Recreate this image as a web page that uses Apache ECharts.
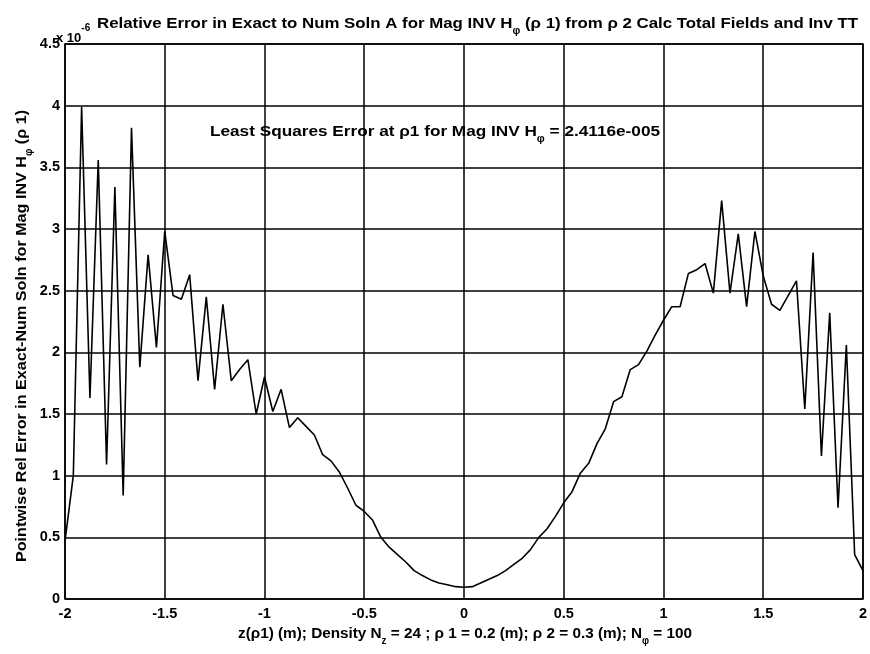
<!DOCTYPE html>
<html>
<head>
<meta charset="utf-8">
<script src="https://cdn.jsdelivr.net/npm/echarts@6/dist/echarts.min.js"></script>
<style>
  html, body { margin: 0; padding: 0; background: #fff; }
  #chart { width: 870px; height: 654px; }
</style>
</head>
<body>
<div id="chart"></div>
<script>
// Sampling along z(rho1): N_z = 24 points per metre from -2 to 2
const zStart = -2;
const zDensity = 24;

// Pointwise relative error (units of 1e-6), one value per z sample
const relError = [
  0.47, 1.00, 3.99, 1.63, 3.56, 1.09, 3.34, 0.84, 3.82, 1.88,
  2.79, 2.04, 2.98, 2.46, 2.43, 2.63, 1.77, 2.45, 1.70, 2.39,
  1.77, 1.86, 1.94, 1.50, 1.80, 1.52, 1.70, 1.39, 1.47, 1.40,
  1.33, 1.17, 1.12, 1.03, 0.90, 0.76, 0.71, 0.64, 0.50, 0.42,
  0.36, 0.30, 0.23, 0.19, 0.155, 0.13, 0.115, 0.10, 0.095, 0.10,
  0.13, 0.16, 0.19, 0.23, 0.28, 0.33, 0.40, 0.50, 0.57, 0.67,
  0.78, 0.87, 1.02, 1.10, 1.26, 1.38, 1.60, 1.64, 1.86, 1.90,
  2.01, 2.14, 2.26, 2.37, 2.37, 2.64, 2.67, 2.72, 2.48, 3.23,
  2.48, 2.96, 2.37, 2.98, 2.62, 2.39, 2.34, 2.46, 2.58, 1.54,
  2.81, 1.16, 2.32, 0.74, 2.06, 0.36, 0.23
];

const xTicks = [-2, -1.5, -1, -0.5, 0, 0.5, 1, 1.5, 2];
const yTicks = [0, 0.5, 1, 1.5, 2, 2.5, 3, 3.5, 4, 4.5];

// Text pieces: [string, isSubscript]
const titleParts = [['Relative Error in Exact to Num Soln A for Mag INV H', 0], ['φ', 1], [' (ρ 1) from ρ 2 Calc Total Fields and Inv TT', 0]];
const noteParts = [['Least Squares Error at ρ1 for Mag INV H', 0], ['φ', 1], [' = 2.4116e-005', 0]];
const xNameParts = [['z(ρ1) (m); Density N', 0], ['z', 1], [' = 24 ; ρ 1 = 0.2 (m); ρ 2 = 0.3 (m); N', 0], ['φ', 1], [' = 100', 0]];
const yNameParts = [['Pointwise Rel Error in Exact-Num Soln for Mag INV H', 0], ['φ', 1], [' (ρ 1)', 0]];

const seriesData = relError.map((v, k) => [zStart + k / zDensity, v]);

const FONT = '"Liberation Sans", Arial, sans-serif';
const MAIN = 15.5, SUB = 10;
const base = { fontFamily: FONT, fontWeight: 'bold', color: '#000' };

// width of a rich label, used to stretch it to its span
const ctx = document.createElement('canvas').getContext('2d');
function partsWidth(parts) {
  let w = 0;
  for (const [t, sub] of parts) {
    ctx.font = 'bold ' + (sub ? SUB : MAIN) + 'px ' + FONT;
    w += ctx.measureText(t).width;
  }
  return w;
}
function richText(parts) {
  return parts.map(([t, sub]) => '{' + (sub ? 's' : 'm') + '|' + t + '}').join('');
}
const rich = {
  m: { ...base, fontSize: MAIN, verticalAlign: 'middle', lineHeight: 24 },
  s: { ...base, fontSize: SUB, verticalAlign: 'bottom', lineHeight: 24 }
};
function label(parts, x, y, span, extra) {
  const sx = span / partsWidth(parts);
  return Object.assign({
    type: 'text', x: x, y: y, scaleX: sx, z: 10,
    style: { text: richText(parts), rich: rich, align: 'center', verticalAlign: 'middle' }
  }, extra || {});
}

const chart = echarts.init(document.getElementById('chart'), null, { renderer: 'canvas' });

chart.setOption({
  backgroundColor: '#fff',
  animation: false,
  grid: {
    left: 65, right: 7, top: 44, bottom: 55,
    show: true, borderColor: '#000', borderWidth: 1.5, backgroundColor: 'transparent'
  },
  xAxis: {
    type: 'value',
    min: xTicks[0], max: xTicks[xTicks.length - 1], interval: 0.5,
    axisLine: { show: false },
    axisTick: { show: false },
    splitLine: { show: true, lineStyle: { color: '#000', width: 1.5 } },
    axisLabel: { ...base, fontSize: 14.5, margin: 7, formatter: v => String(v) }
  },
  yAxis: {
    type: 'value',
    min: yTicks[0], max: yTicks[yTicks.length - 1], interval: 0.5,
    axisLine: { show: false },
    axisTick: { show: false },
    splitLine: { show: true, lineStyle: { color: '#000', width: 1.5 } },
    axisLabel: { ...base, fontSize: 14.5, margin: 5, formatter: v => String(v) }
  },
  series: [{
    type: 'line',
    data: seriesData,
    showSymbol: false,
    lineStyle: { color: '#000', width: 1.6 },
    z: 5
  }],
  graphic: [
    {
      type: 'text', left: 56, top: 23,
      style: {
        text: '{m|x 10}{s|-6}',
        rich: {
          m: { ...base, fontSize: 13, verticalAlign: 'bottom', lineHeight: 22 },
          s: { ...base, fontSize: 10, verticalAlign: 'top', lineHeight: 22 }
        }
      }
    },
    label(titleParts, (97 + 858) / 2, 24, 761),
    label(noteParts, (210 + 660) / 2, 132, 450),
    label(xNameParts, (238 + 692) / 2, 634, 454),
    label(yNameParts, 22, 336, 452, { rotation: Math.PI / 2 })
  ]
});
</script>
</body>
</html>
